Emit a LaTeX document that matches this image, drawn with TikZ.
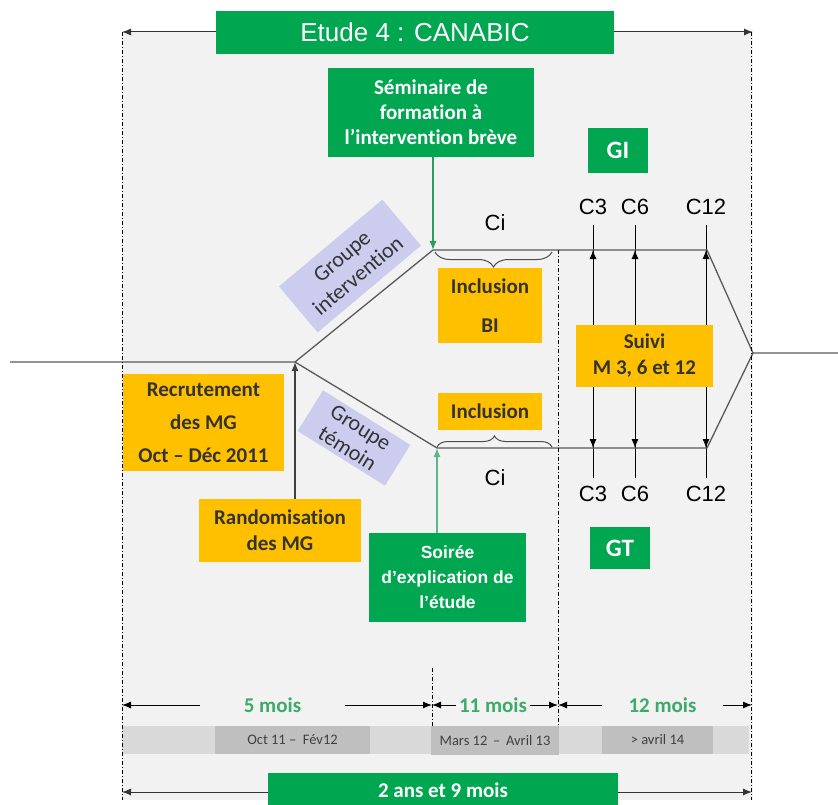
\documentclass[tikz,border=0pt]{standalone}
\usepackage{fontspec}
\setmainfont{Carlito}[Ligatures=NoCommon]
\newfontfamily\arialfont{Liberation Sans}
\usetikzlibrary{positioning, arrows.meta, decorations.pathreplacing}

\definecolor{bggray}{HTML}{F2F2F2}
\definecolor{boxgreen}{HTML}{00A650}
\definecolor{boxorange}{HTML}{FFC000}
\definecolor{lavender}{HTML}{CCCCEE}
\definecolor{txtgreen}{HTML}{3DAA6A}
\definecolor{arrgreen}{HTML}{2E9B5B}
\definecolor{arrlight}{HTML}{5DB888}
\definecolor{bargray}{HTML}{D9D9D9}
\definecolor{bardark}{HTML}{BFBFBF}
\definecolor{txtdark}{HTML}{333333}

\tikzset{
x=1pt, y=-1pt, % one unit is one pixel of the picture, y going down
>={Latex[length=9pt,width=7pt]}, % filled arrow heads
greenbox/.style={fill=boxgreen, text=white, font=\bfseries\fontsize{21}{25}\selectfont, align=center, inner sep=0pt},
orangebox/.style={fill=boxorange, text=txtdark, font=\bfseries\fontsize{21}{26}\selectfont, align=center, inner sep=0pt},
groupbox/.style={fill=lavender, text=txtdark, font=\fontsize{22}{25}\selectfont, align=center, inner sep=0pt},
datebox/.style={fill=bardark, text=black!75, font=\fontsize{14.5}{16}\selectfont, inner sep=0pt, minimum height=28pt},
duration/.style={text=txtgreen, font=\bfseries\fontsize{21}{21}\selectfont, inner sep=0pt},
clabel/.style={font=\arialfont\fontsize{22}{22}\selectfont, inner sep=1pt},
branch/.style={draw=black!65, line width=1.3pt}, % the lines of the two groups
vline/.style={black, line width=1pt},
sepline/.style={black, line width=0.8pt, dash pattern=on 4pt off 2pt on 1pt off 2pt},
bracket/.style={draw=black!70, line width=1pt, decorate},
}

\begin{document}
\begin{tikzpicture}
\useasboundingbox (0,0) rectangle (838,805);
\fill[bggray] (122,32) rectangle (753,800);

% points of the study paths
\coordinate (in) at (10,362);
\coordinate (split) at (295,362);
\coordinate (gi1) at (433,250);
\coordinate (gi2) at (707,250);
\coordinate (tip) at (753,353);
\coordinate (out) at (838,353);
\coordinate (gt1) at (437,448);
\coordinate (gt2) at (707,448);

% follow-up columns
\foreach \n/\x in {3/593, 6/635, 12/706} {
  \node[clabel] (top\n) at (\x,207) {C\n};
  \node[clabel] (bot\n) at (\x,494) {C\n};
  \draw[vline, shorten <=9pt, shorten >=7pt] (top\n) -- (bot\n);
}

\draw[branch] (in) -- (split) -- (gi1) -- (gi2) -- (tip) -- (out);
\draw[branch] (split) -- (gt1) -- (gt2) -- (tip);

% top title
\coordinate (top0) at (122,32);
\coordinate (top1) at (753,32);
\draw[<->, black!80, line width=1pt] (top0) -- (top1);
\node[greenbox, font=\arialfont\fontsize{26}{26}\selectfont, minimum width=398pt, minimum height=43pt] (title) at (415,32.5) {Etude 4 : CANABIC};

\node[greenbox, minimum width=206pt, minimum height=89pt] (sem) at (431,112.5) {Séminaire de\\formation à\\l’intervention brève};
\node[greenbox, font=\bfseries\fontsize{25}{25}\selectfont, minimum width=60pt, minimum height=45pt] (gi) at (618,150.5) {GI};
\node[greenbox, font=\bfseries\fontsize{25}{25}\selectfont, minimum width=60pt, minimum height=42pt] (gt) at (620,548) {GT};

\node[groupbox, rotate=40, minimum width=135pt, minimum height=60pt] (grpi) at (350,266) {Groupe\\intervention};
\node[groupbox, rotate=-32, minimum width=103pt, minimum height=48pt] (grpt) at (354,438) {Groupe\\témoin};

\node[orangebox, font=\bfseries\fontsize{21}{39}\selectfont, minimum width=104pt, minimum height=75pt] (incbi) at (490,305.5) {Inclusion\\BI};
\node[orangebox, minimum width=104pt, minimum height=37pt] (inc) at (490,411.5) {Inclusion};
\node[orangebox, minimum width=137pt, minimum height=62pt] (suivi) at (644.5,356) {Suivi\\M 3, 6 et 12};
\node[orangebox, font=\bfseries\fontsize{21}{33}\selectfont, minimum width=161pt, minimum height=97pt] (recr) at (203.5,422.5) {Recrutement\\des MG\\Oct – Déc 2011};
\node[orangebox, minimum width=162pt, minimum height=63pt] (rand) at (280,530.5) {Randomisation\\des MG};
\node[greenbox, font=\arialfont\bfseries\fontsize{17.5}{25}\selectfont, minimum width=157pt, minimum height=89pt] (soir) at (447.5,577.5) {Soirée\\d’explication de\\l’étude};

% arrows onto the group lines
\foreach \n in {3, 6, 12} {
  \draw[vline, ->] (suivi.north -| top\n) -- (top\n |- gi1);
  \draw[vline, ->] (suivi.south -| bot\n) -- (bot\n |- gt1);
}
\draw[->, arrgreen, line width=1.3pt] (sem.south -| gi1) -- (gi1);
\draw[->, arrlight, line width=1.3pt] (soir.north -| gt1) -- (gt1);
\draw[->, black!75, line width=1.3pt] (rand.north -| split) -- (split);

% inclusion brackets
\draw[bracket, decoration={brace, amplitude=15pt}] (552,252) -- (435,252);
\draw[bracket, decoration={brace, amplitude=11pt}] (437,447) -- (552,447);
\node[clabel] (ci1) at (495,223) {Ci};
\node[clabel] (ci2) at (495,478) {Ci};

% time line
\fill[bargray] (122,726) rectangle (749,754);
\node[datebox, minimum width=155pt] (oct) at (292.5,740) {Oct 11 –\ \ Fév12};
\node[datebox, minimum width=128pt, minimum height=29pt] (mars) at (495,740.5) {Mars 12 \,–\, Avril 13};
\node[datebox, minimum width=111pt] (avril) at (657.5,740) {>\ avril 14};

\coordinate (t0) at (122,705);
\coordinate (t1) at (432,705);
\coordinate (t2) at (558,705);
\coordinate (t3) at (752,705);
\node[duration, minimum width=145pt] (m5) at (272.5,705) {5 mois};
\node[duration, minimum width=74pt] (m11) at (493,705) {11 mois};
\node[duration, minimum width=121pt] (m12) at (662.5,705) {12 mois};
\draw[->, line width=1pt] (m5.west) -- (t0);
\draw[->, line width=1pt] (m5.east) -- (t1);
\draw[->, line width=1pt] (m11.west) -- (t1);
\draw[->, line width=1pt] (m11.east) -- (t2);
\draw[->, line width=1pt] (m12.west) -- (t2);
\draw[->, line width=1pt] (m12.east) -- (t3);

\coordinate (b0) at (122,792);
\coordinate (b1) at (752,792);
\draw[<->, black!80, line width=1pt] (b0) -- (b1);
\node[greenbox, minimum width=350pt, minimum height=34pt] (total) at (443,790) {2 ans et 9 mois};

% dash-dot limits
\draw[sepline] (122,32) -- (122,800);
\draw[sepline] (751,32) -- (751,800);
\draw[sepline] (558,250) -- (558,727);
\draw[sepline] (432,668) -- (432,727);
\end{tikzpicture}
\end{document}
